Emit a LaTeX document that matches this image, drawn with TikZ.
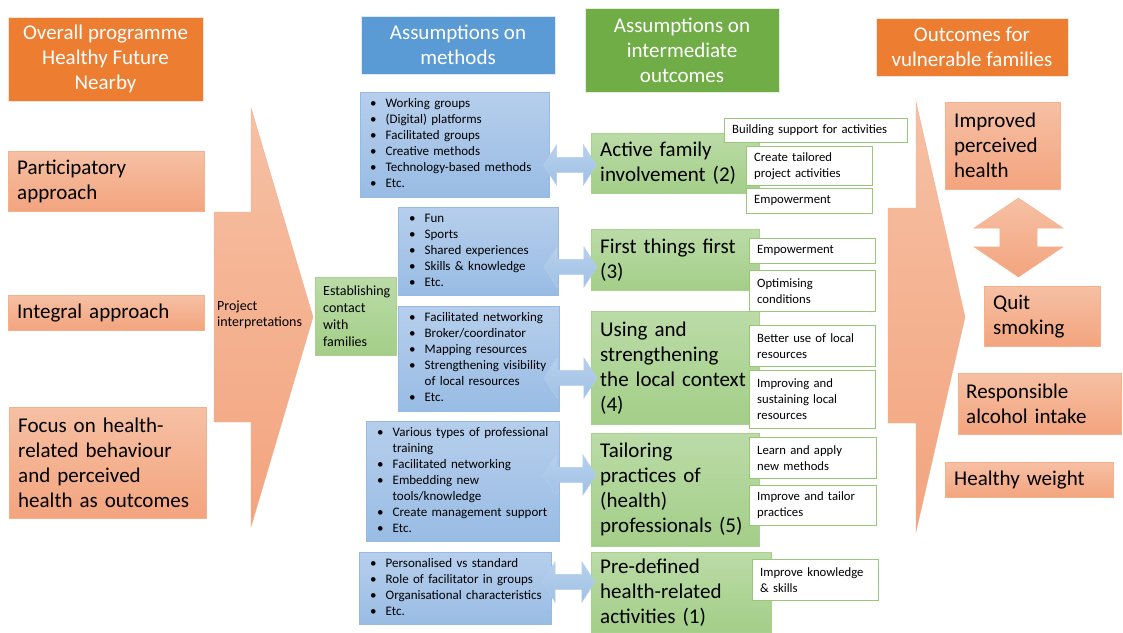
\documentclass[tikz,border=0pt]{standalone}
\usepackage{fontspec}
\setmainfont{Carlito}
\usepackage{xcolor}
\usepackage{tikz}
\usetikzlibrary{shapes,shapes.arrows}

\definecolor{hdorange}{RGB}{237,125,49}
\definecolor{hdblue}{RGB}{91,155,213}
\definecolor{hdgreen}{RGB}{112,173,71}
\definecolor{ortop}{RGB}{246,192,164}
\definecolor{orbot}{RGB}{243,164,126}
\definecolor{orbd}{RGB}{244,177,140}
\definecolor{bltop}{RGB}{182,206,236}
\definecolor{blbot}{RGB}{153,188,228}
\definecolor{blbd}{RGB}{150,186,228}
\definecolor{grtop}{RGB}{187,219,167}
\definecolor{grbot}{RGB}{163,206,136}
\definecolor{grbd}{RGB}{168,208,142}
\definecolor{ntbd}{RGB}{150,200,120}
\definecolor{artop}{RGB}{184,208,236}
\definecolor{arbot}{RGB}{160,193,230}

\newcommand{\bigtxt}{\fontsize{21}{25}\selectfont}
\newcommand{\smalltxt}{\fontsize{13}{16}\selectfont}
\newcommand{\midtxt}{\fontsize{14}{16.5}\selectfont}
\newcommand{\notetxt}{\fontsize{12.7}{16}\selectfont}

\begin{document}
\begin{tikzpicture}[x=1pt, y=-1pt,
  head/.style={rectangle, draw=white!80!#1, fill=#1, text=white, align=center, inner sep=0pt, font=\bigtxt},
  outc/.style={rectangle, draw=orbd, top color=ortop, bottom color=orbot, anchor=north west, align=left, inner xsep=9pt, inner ysep=0pt, font=\bigtxt},
  meth/.style={rectangle, draw=blbd, top color=bltop, bottom color=blbot, anchor=north west, align=left, inner xsep=10pt, inner ysep=0pt, font=\smalltxt},
  inter/.style={rectangle, draw=grbd, top color=grtop, bottom color=grbot, anchor=north west, align=left, inner xsep=9pt, inner ysep=0pt, font=\bigtxt},
  note/.style={rectangle, draw=ntbd, fill=white, anchor=north west, align=left, inner xsep=8pt, inner ysep=0pt, font=\notetxt},
  chevron/.style={draw=orbd, top color=ortop, bottom color=orbot},
  dblarrow/.style={double arrow, double arrow tip angle=114, double arrow head extend=12.5pt, minimum height=53pt, inner xsep=0pt, inner ysep=7.5pt, draw=blbd!70!white, top color=artop, bottom color=arbot}
]
\useasboundingbox (0,0) rectangle (1123,632);

% Big arrows
\path[chevron] (251,108) -- (313,317) -- (251,527) -- (251,422) -- (214,422) -- (214,212) -- (251,212) -- cycle;
\node[anchor=west, align=left, inner xsep=3pt, font=\midtxt] (interp) at (214,315) {Project\\interpretations};
\path[chevron] (916,102) -- (965,317) -- (916,532) -- (916,423) -- (888,423) -- (888,208) -- (916,208) -- cycle;

% Headers
\node[head=hdorange, minimum width=195pt, minimum height=84pt] (prog) at (105.5,59) {Overall programme\\Healthy Future\\Nearby};
\node[head=hdblue, minimum width=194pt, minimum height=58pt] (hmeth) at (458,45) {Assumptions on\\methods};
\node[head=hdgreen, minimum width=194pt, minimum height=84pt] (hinter) at (682,50) {Assumptions on\\intermediate\\outcomes};
\node[head=hdorange, minimum width=192pt, minimum height=58pt] (hout) at (972,47) {Outcomes for\\vulnerable families};

% Programme approaches
\node[outc, text width=178pt, minimum height=60pt] (partic) at (8,151) {Participatory\\approach};
\node[outc, text width=178pt, minimum height=35pt] (integ) at (8,295) {Integral approach};
\node[outc, text width=179pt, minimum height=111pt] (focus) at (9,407) {Focus on health-\\related behaviour\\and perceived\\health as outcomes};

% Contact
\node[inter, font=\fontsize{14}{16.7}\selectfont, inner xsep=8pt, text width=65pt, minimum height=78pt] (contact) at (315,277) {Establishing\\contact\\with\\families};

% Methods
\node[meth, text width=169pt, minimum height=105pt] (m2) at (360,92) {\begin{tabular}{@{}l@{\hspace{9pt}}l@{}}
\textbullet & Working groups\\ \textbullet & (Digital) platforms\\ \textbullet & Facilitated groups\\
\textbullet & Creative methods\\ \textbullet & Technology-based methods\\ \textbullet & Etc.\end{tabular}};
\node[meth, text width=138pt, minimum height=88pt, inner xsep=11pt] (m3) at (398,207) {\begin{tabular}{@{}l@{\hspace{9pt}}l@{}}
\textbullet & Fun\\ \textbullet & Sports\\ \textbullet & Shared experiences\\
\textbullet & Skills \& knowledge\\ \textbullet & Etc.\end{tabular}};
\node[meth, text width=139pt, minimum height=105pt, inner xsep=11pt] (m4) at (398,306) {\begin{tabular}{@{}l@{\hspace{9pt}}l@{}}
\textbullet & Facilitated networking\\ \textbullet & Broker/coordinator\\ \textbullet & Mapping resources\\
\textbullet & Strengthening visibility\\ & of local resources\\ \textbullet & Etc.\end{tabular}};
\node[meth, text width=171pt, minimum height=120pt, inner xsep=11pt] (m5) at (366,421) {\begin{tabular}{@{}l@{\hspace{9pt}}l@{}}
\textbullet & Various types of professional\\ & training\\ \textbullet & Facilitated networking\\
\textbullet & Embedding new\\ & tools/knowledge\\ \textbullet & Create management support\\ \textbullet & Etc.\end{tabular}};
\node[meth, text width=170pt, minimum height=72pt, inner xsep=11pt] (m1) at (359,552) {\begin{tabular}{@{}l@{\hspace{9pt}}l@{}}
\textbullet & Personalised vs standard\\ \textbullet & Role of facilitator in groups\\
\textbullet & Organisational characteristics\\ \textbullet & Etc.\end{tabular}};

% Intermediate outcomes
\node[inter, text width=150pt, minimum height=60pt] (g2) at (591,133) {Active family\\involvement (2)};
\node[inter, text width=150pt, minimum height=61pt] (g3) at (591,229) {First things first\\(3)};
\node[inter, text width=150pt, minimum height=113pt] (g4) at (591,311) {Using and\\strengthening\\the local context\\(4)};
\node[inter, text width=150pt, minimum height=113pt] (g5) at (591,433) {Tailoring\\practices of\\(health)\\professionals (5)};
\node[inter, text width=162pt, minimum height=80pt] (g1) at (591,552) {Pre-defined\\health-related\\activities (1)};

% Notes
\node[note, text width=167pt, minimum height=24pt] (n2a) at (724,118) {Building support for activities};
\node[note, text width=110pt, minimum height=39pt] (n2b) at (746,146) {Create tailored\\project activities};
\node[note, text width=110pt, minimum height=25pt] (n2c) at (746,188) {Empowerment};
\node[note, text width=110pt, minimum height=25pt] (n3a) at (749,238) {Empowerment};
\node[note, text width=110pt, minimum height=41pt] (n3b) at (749,270) {Optimising\\conditions};
\node[note, text width=110pt, minimum height=41pt] (n4a) at (749,325) {Better use of local\\resources};
\node[note, text width=110pt, minimum height=58pt] (n4b) at (749,370) {Improving and\\sustaining local\\resources};
\node[note, text width=111pt, minimum height=41pt] (n5a) at (749,437) {Learn and apply\\new methods};
\node[note, text width=111pt, minimum height=40pt] (n5b) at (749,485) {Improve and tailor\\practices};
\node[note, text width=110pt, minimum height=41pt] (n1a) at (752,559) {Improve knowledge\\\& skills};

% Outcomes
\node[outc, text width=97pt, minimum height=87pt] (perc) at (945,102) {Improved\\perceived\\health};
\node[outc, text width=98pt, minimum height=60pt] (quit) at (984,286) {Quit\\smoking};
\node[outc, text width=147pt, minimum height=61pt, inner xsep=8pt] (alc) at (958,373) {Responsible\\alcohol intake};
\node[outc, text width=150pt, minimum height=35pt] (weight) at (945,462) {Healthy weight};

% Links methods <-> outcomes
\node[dblarrow] (a2) at (570,165) {};
\node[dblarrow] (a3) at (570.5,267) {};
\node[dblarrow] (a4) at (570.5,378) {};
\node[dblarrow] (a5) at (569.5,475) {};
\node[dblarrow] (a1) at (568.5,582) {};
\node[double arrow, rotate=90, double arrow tip angle=112, double arrow head extend=26pt, minimum height=79pt, inner xsep=0pt, inner ysep=18.5pt, draw=orbd, top color=ortop, bottom color=orbot] (aout) at (1018.5,237.5) {};

\end{tikzpicture}
\end{document}
